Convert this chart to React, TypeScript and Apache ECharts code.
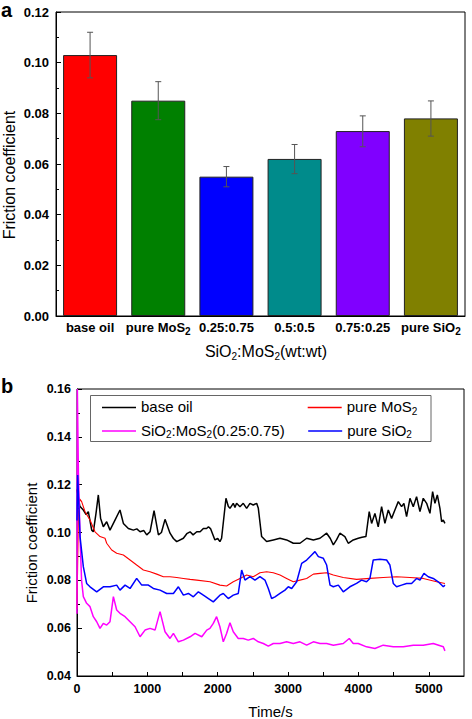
import React, { useEffect, useRef } from 'react';
import * as echarts from 'echarts';

// ---------- panel a data ----------
const categories = ['base oil', 'pure MoS2', '0.25:0.75', '0.5:0.5', '0.75:0.25', 'pure SiO2'];
const frictionMean = [0.103, 0.085, 0.055, 0.062, 0.073, 0.078];
const errorLow = [0.094, 0.0775, 0.051, 0.0562, 0.0668, 0.071];
const errorHigh = [0.112, 0.0925, 0.059, 0.0677, 0.079, 0.0849];
const barColors = ['#FF0000', '#008000', '#0000FF', '#008B8B', '#8000FF', '#808000'];

// ---------- panel b data: [time (s), friction coefficient] ----------
const baseOil: [number, number][] = [
  [0, 0.118], [40, 0.111], [90, 0.1094], [130, 0.1075], [161, 0.1087], [209, 0.101], [232, 0.1003], [270, 0.108],
  [303, 0.1157], [335, 0.106], [374, 0.1024], [422, 0.1045], [469, 0.101], [540, 0.1052], [611, 0.1094], [659, 0.1038],
  [730, 0.1017], [801, 0.101], [850, 0.1015], [896, 0.1003], [950, 0.1008], [991, 0.099], [1038, 0.1003], [1095, 0.1091],
  [1157, 0.099], [1200, 0.1], [1251, 0.1055], [1322, 0.0997], [1370, 0.0975], [1417, 0.0962], [1512, 0.0976], [1560, 0.0995],
  [1607, 0.1003], [1650, 0.099], [1702, 0.1003], [1750, 0.1003], [1796, 0.1017], [1842, 0.1017], [1868, 0.1024], [1900, 0.1015],
  [1960, 0.0969], [2000, 0.0975], [2031, 0.0962], [2055, 0.0976], [2117, 0.1143], [2150, 0.111], [2174, 0.1101], [2221, 0.1122],
  [2245, 0.1105], [2268, 0.1122], [2316, 0.1108], [2363, 0.1122], [2411, 0.1101], [2458, 0.1122], [2505, 0.1115], [2553, 0.1122],
  [2577, 0.1101], [2624, 0.0983], [2695, 0.0962], [2790, 0.0969], [2885, 0.0976], [2979, 0.0969], [3074, 0.0955], [3169, 0.0955],
  [3264, 0.0976], [3359, 0.0969], [3453, 0.0976], [3548, 0.0997], [3600, 0.0975], [3643, 0.0948], [3690, 0.097], [3736, 0.0997],
  [3807, 0.0983], [3855, 0.0955], [3926, 0.0969], [3997, 0.0976], [4050, 0.098], [4106, 0.0983], [4153, 0.1087], [4187, 0.1038],
  [4234, 0.108], [4281, 0.1024], [4329, 0.1108], [4376, 0.1038], [4424, 0.1094], [4471, 0.1059], [4518, 0.1094], [4566, 0.1129],
  [4613, 0.1108], [4646, 0.1122], [4684, 0.1066], [4732, 0.1143], [4779, 0.1108], [4826, 0.115], [4874, 0.1087], [4921, 0.1143],
  [4969, 0.1122], [5016, 0.108], [5054, 0.1171], [5087, 0.1122], [5121, 0.1157], [5158, 0.1101], [5182, 0.1045], [5205, 0.1052],
  [5229, 0.1038],
];
const pureMoS2: [number, number][] = [
  [0, 0.068], [20, 0.108], [40, 0.114], [66, 0.1129], [114, 0.1087], [185, 0.1052], [256, 0.1003], [327, 0.0983],
  [398, 0.0976], [422, 0.0955], [493, 0.0927], [564, 0.0913], [659, 0.0906], [754, 0.0885], [848, 0.0864], [943, 0.0843],
  [1038, 0.0836], [1133, 0.0826], [1228, 0.0815], [1322, 0.0815], [1417, 0.0812], [1512, 0.0808], [1607, 0.0804], [1702, 0.0801],
  [1891, 0.0794], [2031, 0.078], [2126, 0.0776], [2221, 0.0794], [2316, 0.0808], [2411, 0.0822], [2505, 0.0815], [2600, 0.0832],
  [2695, 0.0836], [2790, 0.0832], [2885, 0.0822], [2979, 0.0808], [3074, 0.0794], [3169, 0.0801], [3264, 0.0808], [3359, 0.0826],
  [3453, 0.0829], [3548, 0.0832], [3643, 0.0822], [3784, 0.0812], [3973, 0.0804], [4163, 0.0808], [4352, 0.0812], [4542, 0.0815],
  [4732, 0.0812], [4921, 0.0808], [5111, 0.0794], [5229, 0.0787],
];
const pureSiO2: [number, number][] = [
  [0, 0.105], [10, 0.124], [43, 0.0983], [90, 0.0857], [137, 0.0787], [185, 0.0773], [280, 0.0752], [374, 0.0773],
  [469, 0.0773], [564, 0.078], [611, 0.0759], [683, 0.078], [754, 0.0766], [848, 0.0808], [920, 0.078], [1014, 0.078],
  [1085, 0.0766], [1180, 0.0759], [1275, 0.0745], [1370, 0.0745], [1441, 0.0773], [1512, 0.0738], [1583, 0.0745], [1654, 0.0731],
  [1725, 0.0752], [1796, 0.0738], [1868, 0.0724], [1937, 0.071], [2031, 0.0738], [2079, 0.0745], [2150, 0.0724], [2221, 0.0738],
  [2292, 0.0745], [2340, 0.0843], [2387, 0.0801], [2458, 0.0815], [2529, 0.0801], [2600, 0.0815], [2671, 0.0801], [2719, 0.0766],
  [2766, 0.0724], [2814, 0.0731], [2885, 0.0745], [2956, 0.0759], [3003, 0.0773], [3051, 0.0766], [3122, 0.0794], [3193, 0.0871],
  [3264, 0.0885], [3335, 0.0906], [3382, 0.092], [3430, 0.0899], [3501, 0.0892], [3548, 0.0864], [3596, 0.078], [3643, 0.0773],
  [3714, 0.078], [3784, 0.0752], [3878, 0.0773], [3973, 0.0787], [4044, 0.0801], [4115, 0.0794], [4163, 0.0808], [4210, 0.0885],
  [4305, 0.0888], [4400, 0.0885], [4447, 0.0864], [4495, 0.0787], [4542, 0.0773], [4613, 0.078], [4684, 0.0787], [4755, 0.0787],
  [4826, 0.0808], [4874, 0.0801], [4931, 0.0829], [4992, 0.0815], [5063, 0.0808], [5134, 0.0794], [5206, 0.0773], [5229, 0.078],
];
const mix025: [number, number][] = [
  [0, 0.066], [5, 0.16], [20, 0.125], [43, 0.0983], [65, 0.08], [90, 0.0732], [137, 0.0704], [185, 0.069],
  [232, 0.0648], [280, 0.0627], [327, 0.0599], [374, 0.062], [422, 0.0613], [469, 0.0627], [517, 0.0732], [564, 0.0676],
  [611, 0.0662], [683, 0.0648], [754, 0.0627], [825, 0.0606], [896, 0.0564], [967, 0.0592], [1038, 0.0599], [1109, 0.0592],
  [1180, 0.0669], [1251, 0.0585], [1322, 0.0557], [1370, 0.0578], [1441, 0.0543], [1512, 0.055], [1607, 0.0564], [1678, 0.0578],
  [1773, 0.0564], [1844, 0.0592], [1889, 0.0599], [1937, 0.062], [1984, 0.0648], [2031, 0.0606], [2079, 0.0543], [2126, 0.0578],
  [2174, 0.0623], [2221, 0.0585], [2292, 0.0557], [2363, 0.0557], [2434, 0.055], [2505, 0.0557], [2577, 0.0543], [2648, 0.0536],
  [2719, 0.0525], [2790, 0.0536], [2885, 0.0536], [2979, 0.0543], [3074, 0.0536], [3169, 0.0543], [3264, 0.0529], [3359, 0.0543],
  [3453, 0.0536], [3548, 0.0536], [3643, 0.0529], [3784, 0.0536], [3869, 0.0557], [3926, 0.0536], [3997, 0.0536], [4115, 0.0522],
  [4234, 0.0515], [4352, 0.0529], [4495, 0.0522], [4637, 0.0522], [4779, 0.0529], [4921, 0.0529], [5063, 0.0536], [5206, 0.0522],
  [5229, 0.0505],
];
const seriesNames = ['base oil', 'pure MoS2', 'SiO2:MoS2(0.25:0.75)', 'pure SiO2'];
const yTicksA = { min: 0, max: 0.12, step: 0.02 };
const yTicksB = { min: 0.04, max: 0.16, step: 0.02 };
const xTicksB = { min: 0, max: 5500, step: 500, labelStep: 1000, lastLabel: 5000 };

const FONT = 'Liberation Sans, Arial, Helvetica, sans-serif';
const lineColors = ['#000000', '#FF0000', '#FF00FF', '#0000FF'];

const sub = (s: string) => {
  // turn chemical formula "2"s into rich subscripts
  const parts = s.split(/(MoS2|SiO2)/g).filter((p) => p.length > 0);
  return parts
    .map((p) => (p === 'MoS2' || p === 'SiO2' ? `{m|${p.slice(0, 3)}}{s|2}` : `{m|${p}}`))
    .join('');
};

const richFor = (size: number, subSize: number, bold: boolean, pad: number) => ({
  m: { fontSize: size, fontFamily: FONT, fontWeight: bold ? 'bold' : 'normal', color: '#000', verticalAlign: 'top', lineHeight: size + 2 },
  s: { fontSize: subSize, fontFamily: FONT, fontWeight: bold ? 'bold' : 'normal', color: '#000', verticalAlign: 'bottom', lineHeight: subSize, padding: [pad, 0, 0, 0] },
});

export default function App() {
  const ref = useRef<HTMLDivElement>(null);
  useEffect(() => {
    document.body.style.margin = '0';
    if (!ref.current) return;
    const chart = echarts.init(ref.current, undefined, { renderer: 'svg' });
    const lineData = [baseOil, pureMoS2, mix025, pureSiO2];
    const lineWidths = [1.5, 1.1, 1.5, 1.5];

    const legendItem = (i: number) => ({
      name: seriesNames[i], icon: 'rect',
      itemStyle: { color: lineColors[i], borderWidth: 0, opacity: 1 },
    });
    const legendCommon = {
      left: 102, orient: 'horizontal', padding: 0,
      itemWidth: 34, itemHeight: 1.6, selectedMode: false,
      formatter: (n: string) => sub(n),
      textStyle: { fontSize: 15, fontFamily: FONT, color: '#000', rich: richFor(15, 10, false, 10) },
    };

    const option: any = {
      animation: false,
      backgroundColor: '#fff',
      grid: [
        { left: 56, right: 7, top: 12, bottom: 403, show: true, borderColor: '#000', borderWidth: 1, backgroundColor: 'transparent' },
        { left: 77, right: 8, top: 389, bottom: 43, show: true, borderColor: '#000', borderWidth: 1, backgroundColor: 'transparent' },
      ],
      xAxis: [
        {
          type: 'category', gridIndex: 0, data: categories,
          axisLine: { lineStyle: { color: '#000', width: 1 } },
          axisTick: { show: true, alignWithLabel: true, inside: true, length: 5, lineStyle: { color: '#000' } },
          axisLabel: {
            margin: 5, color: '#000', fontSize: 13, fontWeight: 'bold', fontFamily: FONT, interval: 0,
            formatter: (v: string) => sub(v), rich: richFor(13, 10, true, 9),
          },
          splitLine: { show: false },
        },
        {
          type: 'value', gridIndex: 1, min: xTicksB.min, max: xTicksB.max, interval: xTicksB.step,
          axisLine: { lineStyle: { color: '#000', width: 1 } },
          axisTick: { show: true, inside: true, length: 4, lineStyle: { color: '#000' } },
          axisLabel: {
            margin: 6, color: '#000', fontSize: 12.5, fontWeight: 'bold', fontFamily: FONT, showMaxLabel: false,
            formatter: (v: number) => (v % xTicksB.labelStep === 0 && v <= xTicksB.lastLabel ? String(v) : ''),
          },
          splitLine: { show: false },
        },
      ],
      yAxis: [
        {
          type: 'value', gridIndex: 0, min: yTicksA.min, max: yTicksA.max, interval: yTicksA.step,
          axisLine: { show: true, lineStyle: { color: '#000', width: 1 } },
          axisTick: { show: true, inside: true, length: 5, lineStyle: { color: '#000' } },
          minorTick: { show: true, splitNumber: 2, length: 3, lineStyle: { color: '#000' } },
          axisLabel: { margin: 7, color: '#000', fontSize: 13, fontWeight: 'bold', fontFamily: FONT, formatter: (v: number) => v.toFixed(2) },
          splitLine: { show: false },
        },
        {
          type: 'value', gridIndex: 1, min: yTicksB.min, max: yTicksB.max, interval: yTicksB.step,
          axisLine: { show: true, lineStyle: { color: '#000', width: 1 } },
          axisTick: { show: true, inside: true, length: 5, lineStyle: { color: '#000' } },
          minorTick: { show: true, splitNumber: 2, length: 3, lineStyle: { color: '#000' } },
          axisLabel: { margin: 6, color: '#000', fontSize: 12.5, fontWeight: 'bold', fontFamily: FONT, formatter: (v: number) => v.toFixed(2) },
          splitLine: { show: false },
        },
      ],
      legend: [
        { ...legendCommon, data: [legendItem(0), legendItem(1)], top: 396, itemGap: 115 },
        { ...legendCommon, data: [legendItem(2), legendItem(3)], top: 419.5, itemGap: 23.5 },
      ],
      graphic: [
        { type: 'text', left: 1, top: 0, style: { text: 'a', fontSize: 20, lineHeight: 14, fontWeight: 'bold', fontFamily: FONT, fill: '#000' } },
        { type: 'text', left: 1, top: 376, style: { text: 'b', fontSize: 20, lineHeight: 17, fontWeight: 'bold', fontFamily: FONT, fill: '#000' } },
        {
          type: 'text', x: 9.5, y: 175, rotation: Math.PI / 2,
          style: { text: 'Friction coefficient', fontSize: 16, fontFamily: FONT, fill: '#000', align: 'center', verticalAlign: 'middle' },
        },
        {
          type: 'text', x: 31, y: 543, rotation: Math.PI / 2,
          style: { text: 'Friction coefficient', fontSize: 15, fontFamily: FONT, fill: '#000', align: 'center', verticalAlign: 'middle' },
        },
        {
          type: 'text', x: 266, y: 352,
          style: { text: sub('SiO2:MoS2(wt:wt)'), rich: richFor(16, 10, false, 10), align: 'center', verticalAlign: 'middle' },
        },
        {
          type: 'text', x: 270.5, y: 711,
          style: { text: 'Time/s', fontSize: 15, fontFamily: FONT, fill: '#000', align: 'center', verticalAlign: 'middle' },
        },
        {
          type: 'rect', shape: { x: 90.5, y: 395.5, width: 340.5, height: 46 },
          style: { fill: 'none', stroke: '#666', lineWidth: 1 }, z: 10,
        },
      ],
      series: [
        {
          type: 'bar', xAxisIndex: 0, yAxisIndex: 0, barWidth: 54,
          data: frictionMean.map((v, i) => ({ value: v, itemStyle: { color: barColors[i] } })),
          itemStyle: { borderColor: '#222', borderWidth: 1 },
        },
        {
          type: 'custom', xAxisIndex: 0, yAxisIndex: 0, z: 5,
          data: categories.map((_, i) => [i, errorLow[i], errorHigh[i]]),
          encode: { x: 0, y: [1, 2] },
          renderItem: (params: any, api: any) => {
            const x = api.value(0);
            const lo = api.coord([x, api.value(1)]);
            const hi = api.coord([x, api.value(2)]);
            const cap = 3;
            const style = { stroke: '#555', lineWidth: 1 };
            return {
              type: 'group',
              children: [
                { type: 'line', shape: { x1: lo[0], y1: lo[1], x2: hi[0], y2: hi[1] }, style },
                { type: 'line', shape: { x1: hi[0] - cap, y1: hi[1], x2: hi[0] + cap, y2: hi[1] }, style },
                { type: 'line', shape: { x1: lo[0] - cap, y1: lo[1], x2: lo[0] + cap, y2: lo[1] }, style },
              ],
            };
          },
        },
        ...seriesNames.map((name, i) => ({
          name, type: 'line', xAxisIndex: 1, yAxisIndex: 1, data: lineData[i],
          symbol: 'none', showSymbol: false,
          lineStyle: { color: lineColors[i], width: lineWidths[i] },
          itemStyle: { color: lineColors[i] },
        })),
      ],
    };
    chart.setOption(option);
    return () => chart.dispose();
  }, []);
  return <div ref={ref} style={{ position: 'fixed', left: 0, top: 0, width: 472, height: 719 }} />;
}
